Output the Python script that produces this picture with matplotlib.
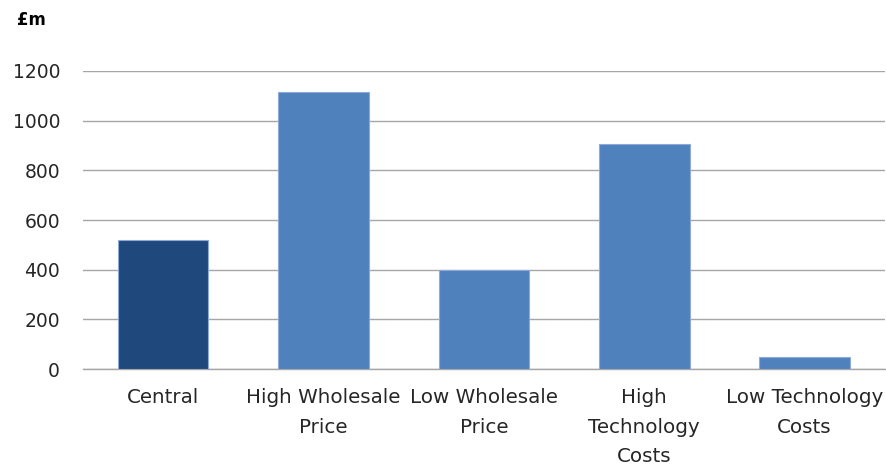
import matplotlib.pyplot as plt

plt.rcParams['font.family'] = ['DejaVu Sans']

# scenario values, £m
scenarios = ["Central", "High Wholesale\nPrice", "Low Wholesale\nPrice",
             "High\nTechnology\nCosts", "Low Technology\nCosts"]
values = [519, 1115, 399, 905, 47]
colours = ["#1F497D", "#4F81BD", "#4F81BD", "#4F81BD", "#4F81BD"]

fig = plt.figure(figsize=(8.87, 4.68), dpi=100)
ax = fig.add_axes([0.0935, 0.2115, 0.904, 0.6368])

x = range(len(scenarios))
ax.bar(x, values, width=0.565, color=colours, edgecolor="#8EAADB", linewidth=0.8, zorder=3)

ax.set_xlim(-0.5, len(scenarios) - 0.5)
ax.set_ylim(0, 1200)
ax.set_yticks(range(0, 1201, 200))
ax.yaxis.grid(True, color="#A6A6A6", linewidth=1.0, zorder=0)
ax.set_xticks(list(x))
ax.tick_params(axis="both", length=0, labelsize=13.5, colors="#262626")
ax.set_xticklabels(scenarios, fontsize=14.3, linespacing=1.7)
ax.tick_params(axis="x", pad=14)
ax.tick_params(axis="y", pad=16.5)

for side in ["top", "right", "left"]:
    ax.spines[side].set_visible(False)
ax.spines["bottom"].set_color("#A6A6A6")
ax.spines["bottom"].set_linewidth(1.0)

fig.text(0.019, 0.958, "£m", fontsize=12, fontweight="bold", va="center", ha="left")

fig.savefig("out.png", dpi=100)
